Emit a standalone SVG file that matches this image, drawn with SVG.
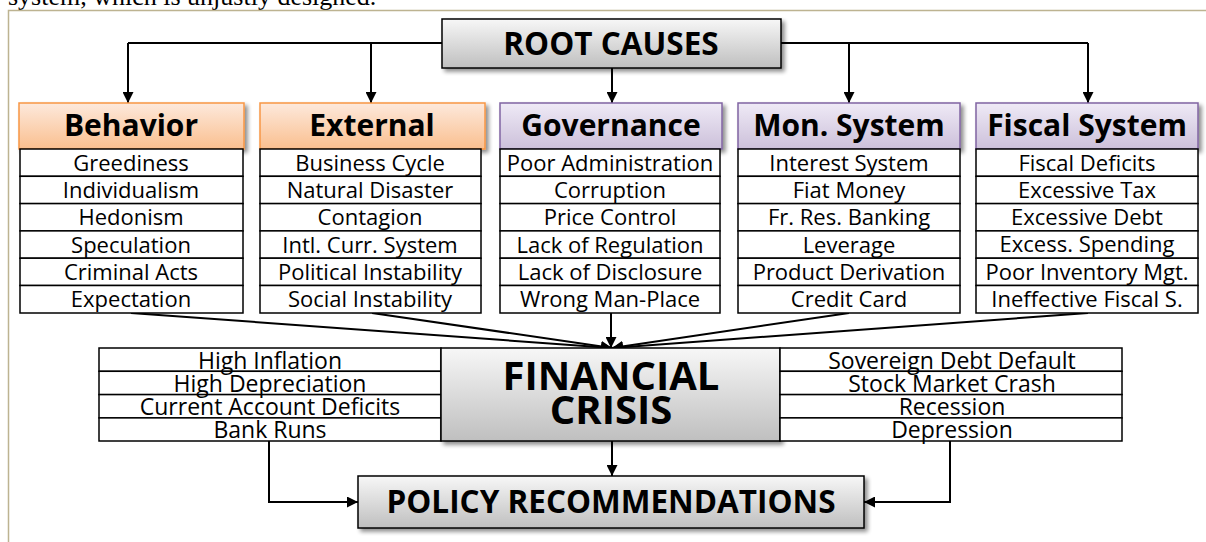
<svg xmlns="http://www.w3.org/2000/svg" width="1206" height="542" viewBox="0 0 1206 542">
<style>
.frame{fill:none;stroke:#bdb391;stroke-width:1.5}
.cap{font-family:"Liberation Serif",serif;font-size:26px;fill:#000}
.gbox{fill:url(#gGray);stroke:#000;stroke-width:1.5}
.obox{fill:url(#gOrange);stroke:#f79646;stroke-width:1.5}
.pbox{fill:url(#gPurple);stroke:#8064a2;stroke-width:1.5}
.cell{fill:#fff;stroke:#000;stroke-width:1.5}
.hd{font-family:"Open Sans",sans-serif;font-weight:bold;font-size:30px;fill:#000;text-anchor:middle}
.rt{font-family:"Open Sans",sans-serif;font-weight:bold;font-size:31.5px;fill:#000;text-anchor:middle}
.big{font-family:"Open Sans",sans-serif;font-weight:bold;font-size:40px;fill:#000;text-anchor:middle}
.it{font-family:"Open Sans",sans-serif;font-size:22px;fill:#000;text-anchor:middle}
.it2{font-family:"Open Sans",sans-serif;font-size:23px;fill:#000;text-anchor:middle}
.ln{fill:none;stroke:#000;stroke-width:2}
</style>
<defs>
<linearGradient id="gGray" x1="0" y1="0" x2="0" y2="1"><stop offset="0" stop-color="#f7f7f7"/><stop offset="1" stop-color="#bfbfbf"/></linearGradient>
<linearGradient id="gOrange" x1="0" y1="0" x2="0" y2="1"><stop offset="0" stop-color="#fde9dc"/><stop offset="1" stop-color="#fabf8f"/></linearGradient>
<linearGradient id="gPurple" x1="0" y1="0" x2="0" y2="1"><stop offset="0" stop-color="#efeaf6"/><stop offset="1" stop-color="#ccc0da"/></linearGradient>
<filter id="sh" x="-10%" y="-10%" width="130%" height="140%"><feGaussianBlur in="SourceAlpha" stdDeviation="2"/><feOffset dx="3" dy="3"/><feComponentTransfer><feFuncA type="linear" slope="0.45"/></feComponentTransfer><feMerge><feMergeNode/><feMergeNode in="SourceGraphic"/></feMerge></filter>
<marker id="ar" viewBox="0 0 10 10" refX="10" refY="5" markerWidth="5.5" markerHeight="5.5" orient="auto" markerUnits="strokeWidth"><path d="M0,0 L10,5 L0,10 z" fill="#000"/></marker>
</defs>
<rect x="0" y="0" width="1206" height="542" fill="#fff"/>
<text class="cap" x="8" y="5">system, which is unjustly designed.</text>
<path class="frame" d="M8.5,542 V10.5 H1206"/>

<g id="connectors">
<path class="ln" d="M128,43 H1088"/>
<path class="ln" d="M128,43 V103" marker-end="url(#ar)"/>
<path class="ln" d="M371,43 V103" marker-end="url(#ar)"/>
<path class="ln" d="M612,68 V103" marker-end="url(#ar)"/>
<path class="ln" d="M849,43 V103" marker-end="url(#ar)"/>
<path class="ln" d="M1088,43 V103" marker-end="url(#ar)"/>
<path class="ln" d="M131,313 L612,348" marker-end="url(#ar)"/>
<path class="ln" d="M372,313 L612,348" marker-end="url(#ar)"/>
<path class="ln" d="M611,313 L611,348" marker-end="url(#ar)"/>
<path class="ln" d="M849,313 L612,348" marker-end="url(#ar)"/>
<path class="ln" d="M1088,313 L612,348" marker-end="url(#ar)"/>
<path class="ln" d="M612,441 V476" marker-end="url(#ar)"/>
<path class="ln" d="M269,441 V502 H358" marker-end="url(#ar)"/>
<path class="ln" d="M950,441 V502 H864" marker-end="url(#ar)"/>
</g>

<g id="root-causes">
<rect class="gbox" x="442" y="19" width="339" height="49" filter="url(#sh)"/>
<text class="rt" x="611" y="55">ROOT CAUSES</text>
</g>

<g id="behavior">
<rect class="obox" x="19" y="103" width="225" height="46" filter="url(#sh)"/>
<text class="hd" x="131" y="136">Behavior</text>
<rect class="cell" x="20" y="149" width="223" height="27.3"/>
<rect class="cell" x="20" y="176.3" width="223" height="27.3"/>
<rect class="cell" x="20" y="203.6" width="223" height="27.3"/>
<rect class="cell" x="20" y="230.9" width="223" height="27.3"/>
<rect class="cell" x="20" y="258.2" width="223" height="27.3"/>
<rect class="cell" x="20" y="285.5" width="223" height="27.5"/>
<text class="it" x="131" y="171">Greediness</text>
<text class="it" x="131" y="198">Individualism</text>
<text class="it" x="131" y="225">Hedonism</text>
<text class="it" x="131" y="253">Speculation</text>
<text class="it" x="131" y="280">Criminal Acts</text>
<text class="it" x="131" y="307">Expectation</text>
</g>

<g id="external">
<rect class="obox" x="260" y="103" width="225" height="46" filter="url(#sh)"/>
<text class="hd" x="372" y="136">External</text>
<rect class="cell" x="260" y="149" width="221" height="27.3"/>
<rect class="cell" x="260" y="176.3" width="221" height="27.3"/>
<rect class="cell" x="260" y="203.6" width="221" height="27.3"/>
<rect class="cell" x="260" y="230.9" width="221" height="27.3"/>
<rect class="cell" x="260" y="258.2" width="221" height="27.3"/>
<rect class="cell" x="260" y="285.5" width="221" height="27.5"/>
<text class="it" x="370" y="171">Business Cycle</text>
<text class="it" x="370" y="198">Natural Disaster</text>
<text class="it" x="370" y="225">Contagion</text>
<text class="it" x="370" y="253">Intl. Curr. System</text>
<text class="it" x="370" y="280">Political Instability</text>
<text class="it" x="370" y="307">Social Instability</text>
</g>

<g id="governance">
<rect class="pbox" x="500" y="103" width="222" height="46" filter="url(#sh)"/>
<text class="hd" x="611" y="136">Governance</text>
<rect class="cell" x="500" y="149" width="220" height="27.3"/>
<rect class="cell" x="500" y="176.3" width="220" height="27.3"/>
<rect class="cell" x="500" y="203.6" width="220" height="27.3"/>
<rect class="cell" x="500" y="230.9" width="220" height="27.3"/>
<rect class="cell" x="500" y="258.2" width="220" height="27.3"/>
<rect class="cell" x="500" y="285.5" width="220" height="27.5"/>
<text class="it" x="610" y="171">Poor Administration</text>
<text class="it" x="610" y="198">Corruption</text>
<text class="it" x="610" y="225">Price Control</text>
<text class="it" x="610" y="253">Lack of Regulation</text>
<text class="it" x="610" y="280">Lack of Disclosure</text>
<text class="it" x="610" y="307">Wrong Man-Place</text>
</g>

<g id="mon-system">
<rect class="pbox" x="738" y="103" width="222" height="46" filter="url(#sh)"/>
<text class="hd" x="849" y="136">Mon. System</text>
<rect class="cell" x="738" y="149" width="222" height="27.3"/>
<rect class="cell" x="738" y="176.3" width="222" height="27.3"/>
<rect class="cell" x="738" y="203.6" width="222" height="27.3"/>
<rect class="cell" x="738" y="230.9" width="222" height="27.3"/>
<rect class="cell" x="738" y="258.2" width="222" height="27.3"/>
<rect class="cell" x="738" y="285.5" width="222" height="27.5"/>
<text class="it" x="849" y="171">Interest System</text>
<text class="it" x="849" y="198">Fiat Money</text>
<text class="it" x="849" y="225">Fr. Res. Banking</text>
<text class="it" x="849" y="253">Leverage</text>
<text class="it" x="849" y="280">Product Derivation</text>
<text class="it" x="849" y="307">Credit Card</text>
</g>

<g id="fiscal-system">
<rect class="pbox" x="976" y="103" width="222" height="46" filter="url(#sh)"/>
<text class="hd" x="1087" y="136">Fiscal System</text>
<rect class="cell" x="976" y="149" width="222" height="27.3"/>
<rect class="cell" x="976" y="176.3" width="222" height="27.3"/>
<rect class="cell" x="976" y="203.6" width="222" height="27.3"/>
<rect class="cell" x="976" y="230.9" width="222" height="27.3"/>
<rect class="cell" x="976" y="258.2" width="222" height="27.3"/>
<rect class="cell" x="976" y="285.5" width="222" height="27.5"/>
<text class="it" x="1087" y="171">Fiscal Deficits</text>
<text class="it" x="1087" y="198">Excessive Tax</text>
<text class="it" x="1087" y="225">Excessive Debt</text>
<text class="it" x="1087" y="252">Excess. Spending</text>
<text class="it" x="1087" y="280">Poor Inventory Mgt.</text>
<text class="it" x="1087" y="307">Ineffective Fiscal S.</text>
</g>

<g id="effects-left">
<rect class="cell" x="99" y="348" width="342" height="23.3"/>
<rect class="cell" x="99" y="371.3" width="342" height="23.3"/>
<rect class="cell" x="99" y="394.6" width="342" height="23.3"/>
<rect class="cell" x="99" y="417.9" width="342" height="23.1"/>
<text class="it2" x="270" y="369">High Inflation</text>
<text class="it2" x="270" y="392">High Depreciation</text>
<text class="it2" x="270" y="415">Current Account Deficits</text>
<text class="it2" x="270" y="438">Bank Runs</text>
</g>

<g id="financial-crisis">
<rect class="gbox" x="441" y="348" width="339" height="93" filter="url(#sh)"/>
<text class="big" x="611" y="390">FINANCIAL</text>
<text class="big" x="611" y="424">CRISIS</text>
</g>

<g id="effects-right">
<rect class="cell" x="780" y="348" width="342" height="23.3"/>
<rect class="cell" x="780" y="371.3" width="342" height="23.3"/>
<rect class="cell" x="780" y="394.6" width="342" height="23.3"/>
<rect class="cell" x="780" y="417.9" width="342" height="23.1"/>
<text class="it2" x="952" y="369">Sovereign Debt Default</text>
<text class="it2" x="952" y="392">Stock Market Crash</text>
<text class="it2" x="952" y="415">Recession</text>
<text class="it2" x="952" y="438">Depression</text>
</g>

<g id="policy">
<rect class="gbox" x="358" y="476" width="506" height="52" filter="url(#sh)"/>
<text class="rt" x="611" y="513">POLICY RECOMMENDATIONS</text>
</g>
</svg>
